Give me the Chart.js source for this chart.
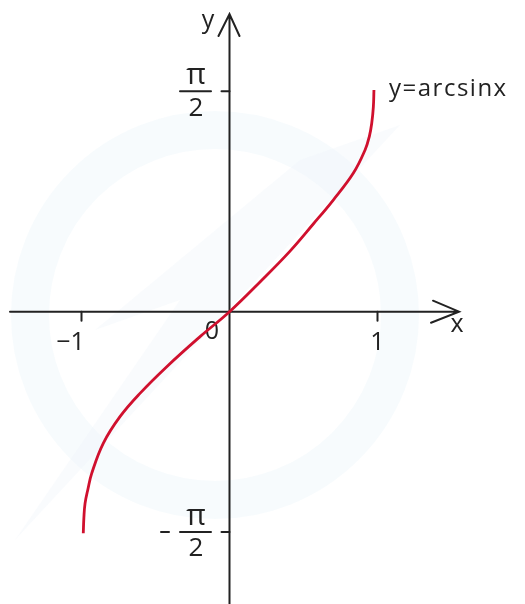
<!DOCTYPE html>
<html>
<head>
<meta charset="utf-8">
<script src="https://cdn.jsdelivr.net/npm/chart.js@4"></script>
<style>
  body { margin: 0; background: #fff; }
  #wrap { width: 525px; height: 604px; }
</style>
</head>
<body>
<div id="wrap"><canvas id="arcsinChart" width="525" height="604"></canvas></div>
<script>
// values
const curveX = [-0.988, -0.984, -0.976, -0.956, -0.931, -0.853, -0.740, -0.605, -0.424, -0.199, 0, 0.206, 0.409, 0.566, 0.701, 0.836, 0.916, 0.945, 0.961, 0.972, 0.976];
const curveY = [-1.579, -1.470, -1.366, -1.262, -1.152, -0.938, -0.748, -0.582, -0.392, -0.178, 0, 0.212, 0.432, 0.625, 0.796, 0.986, 1.153, 1.250, 1.343, 1.460, 1.580];

const xTickValues = [-1, 1];
const xTickLabels = ['\u22121', '1'];
const yTickValues = [1.5708, -1.5708];
const yTickSigns = ['', '\u2212'];   // π/2 and −π/2
const curveLabel = 'y=arcsinx';

const FONT = '"Open Sans", "DejaVu Sans", sans-serif';
const INK = '#222';

/**
 * 背景水印 + 坐标轴 + 文字
 */
const axesPlugin = {
    id: 'axesPlugin',
    beforeDraw(chart) {
        const ctx = chart.ctx;
        ctx.save();
        // faint watermark ring
        ctx.strokeStyle = 'rgba(236, 244, 250, 0.4)';
        ctx.lineWidth = 38;
        ctx.beginPath();
        ctx.arc(215, 315, 185, 0, Math.PI * 2);
        ctx.stroke();
        // faint swoosh
        ctx.fillStyle = 'rgba(238, 243, 248, 0.35)';
        ctx.beginPath();
        ctx.moveTo(15, 540);
        ctx.lineTo(400, 125);
        ctx.lineTo(300, 160);
        ctx.lineTo(95, 330);
        ctx.lineTo(180, 300);
        ctx.closePath();
        ctx.fill();
        ctx.restore();
    },
    beforeDatasetsDraw(chart) {
        const ctx = chart.ctx;
        const xs = chart.scales.x;
        const ys = chart.scales.y;
        const ox = xs.getPixelForValue(0);
        const oy = ys.getPixelForValue(0);

        ctx.save();
        ctx.strokeStyle = INK;
        ctx.lineWidth = 2;
        ctx.lineCap = 'round';

        // x axis with arrow
        ctx.beginPath();
        ctx.moveTo(10, oy);
        ctx.lineTo(459, oy);
        ctx.moveTo(433, oy - 11);
        ctx.lineTo(459, oy);
        ctx.lineTo(431, oy + 11);
        ctx.stroke();

        // y axis with arrow
        ctx.beginPath();
        ctx.moveTo(ox, 604);
        ctx.lineTo(ox, 14);
        ctx.moveTo(ox - 11, 36);
        ctx.lineTo(ox, 14);
        ctx.lineTo(ox + 10, 36);
        ctx.stroke();

        ctx.fillStyle = INK;
        ctx.textAlign = 'center';
        ctx.textBaseline = 'middle';

        // x ticks
        ctx.font = '25px ' + FONT;
        xTickValues.forEach((v, i) => {
            const px = xs.getPixelForValue(v);
            ctx.beginPath();
            ctx.moveTo(px, oy);
            ctx.lineTo(px, oy + 9);
            ctx.stroke();
            ctx.fillText(xTickLabels[i], px - (v < 0 ? 11 : 0), oy + 31);
        });

        // y ticks as fractions
        yTickValues.forEach((v, i) => {
            const py = ys.getPixelForValue(v);
            ctx.beginPath();
            ctx.moveTo(ox - 8, py);
            ctx.lineTo(ox, py);
            ctx.stroke();
            const cx = 196;
            ctx.beginPath();
            ctx.moveTo(cx - 16, py);
            ctx.lineTo(cx + 15, py);
            ctx.stroke();
            ctx.font = '30px ' + FONT;
            ctx.fillText('\u03c0', cx, py - 16);
            ctx.font = '26px ' + FONT;
            ctx.fillText('2', cx, py + 17);
            if (yTickSigns[i]) {
                ctx.beginPath();
                ctx.moveTo(cx - 35, py);
                ctx.lineTo(cx - 27, py);
                ctx.stroke();
            }
        });

        // axis names and origin
        ctx.font = '25px ' + FONT;
        ctx.fillText('y', 208, 21);
        ctx.fillText('x', 457, 325);
        ctx.fillText('0', 212, 332);

        // curve label
        ctx.textAlign = 'left';
        ctx.font = '24px ' + FONT;
        ctx.letterSpacing = '1.5px';
        ctx.fillText(curveLabel, 389, 89);
        ctx.restore();
    }
};

new Chart(document.getElementById('arcsinChart'), {
    type: 'line',
    data: {
        datasets: [{
            label: curveLabel,
            data: curveX.map((x, i) => ({ x: x, y: curveY[i] })),
            borderColor: '#d0102e',
            borderWidth: 2.8,
            pointRadius: 0,
            fill: false,
            tension: 0.4
        }]
    },
    options: {
        responsive: false,
        animation: false,
        layout: { padding: 0 },
        plugins: {
            legend: { display: false },
            tooltip: { enabled: false }
        },
        scales: {
            x: { type: 'linear', display: false, min: -1.5507, max: 1.9966 },
            y: { type: 'linear', display: false, min: -2.0834, max: 2.2217 }
        }
    },
    plugins: [axesPlugin]
});
</script>
</body>
</html>
